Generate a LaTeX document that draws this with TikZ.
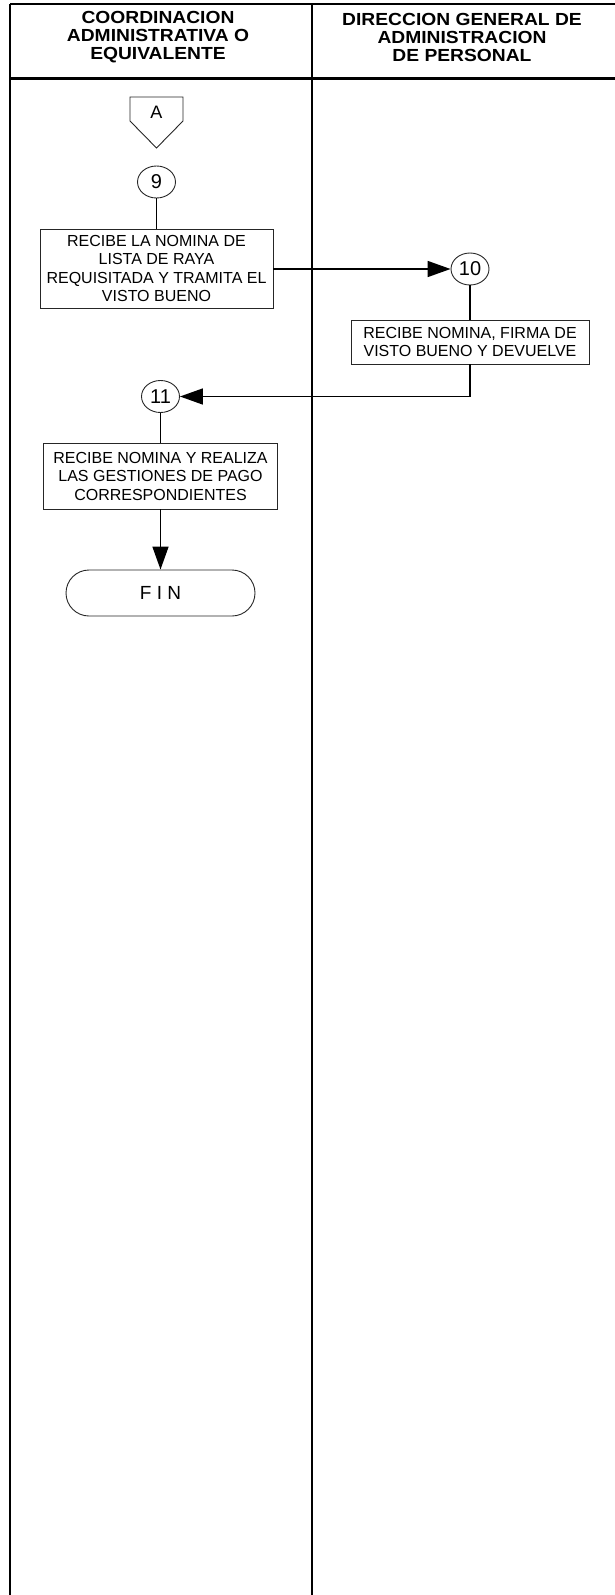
\documentclass[tikz,border=0pt]{standalone}
\usepackage{fontspec}
\setmainfont{Liberation Sans}
\newfontfamily\hdfont[FakeStretch=1.1]{Liberation Sans}
\usetikzlibrary{arrows.meta,shapes.geometric}
\begin{document}
\begin{tikzpicture}[x=1pt,y=-1pt,
  box/.style={draw=black!85, line width=0.9pt, rectangle, inner sep=0pt, align=center,
    font=\fontsize{16}{18.5}\selectfont},
  circ/.style={draw=black!85, line width=0.9pt, ellipse, minimum width=38pt, minimum height=32pt,
    inner sep=0pt, font=\fontsize{20}{20}\selectfont},
  flow/.style={line width=1.6pt},
  arr/.style={flow, -{Triangle[length=23pt,width=16pt]}},
  lane/.style={line width=2pt},
  head/.style={font=\hdfont\fontsize{17.5}{18}\selectfont\bfseries, align=center}]
\useasboundingbox (0,0) rectangle (615,1595);
% swimlane frame
\draw[lane] (10,4.5) -- (625,4.5);
\draw[lane] (10,4.5) -- (10,1605);
\draw[line width=2.5pt] (10,78.5) -- (625,78.5);
\draw[lane] (311.5,4.5) -- (311.5,1605);
\node[head] (h1) at (158,37) {COORDINACION\\ADMINISTRATIVA O\\EQUIVALENTE};
\node[head] (h2) at (462,37) {DIRECCION GENERAL DE\\ADMINISTRACION\\DE PERSONAL};
% off-page connector A
\draw[draw=black!85, line width=0.9pt] (130,97) -- (183,97) -- (183,121) -- (156.5,148) -- (130,121) -- cycle;
\node[font=\fontsize{18}{18}\selectfont] (A) at (156.5,112) {A};
% nodes
\node[circ] (c9) at (156.5,182) {9};
\node[box, minimum width=233pt, minimum height=79pt] (b1) at (156.5,268.5)
  {RECIBE LA NOMINA DE\\LISTA DE RAYA\\REQUISITADA Y TRAMITA EL\\VISTO BUENO};
\node[circ] (c10) at (470,269) {10};
\node[box, minimum width=238pt, minimum height=44pt] (b2) at (470,342)
  {RECIBE NOMINA, FIRMA DE\\VISTO BUENO Y DEVUELVE};
\node[circ] (c11) at (160.5,396.5) {11};
\node[box, minimum width=234pt, minimum height=66pt] (b3) at (160.5,476)
  {RECIBE NOMINA Y REALIZA\\LAS GESTIONES DE PAGO\\CORRESPONDIENTES};
\node[draw=black!85, line width=0.9pt, rounded corners=23pt, minimum width=189pt, minimum height=46pt,
  inner sep=0pt, font=\fontsize{19}{19}\selectfont] (fin) at (160.5,593) {F I N};
% connectors
\draw[flow] (c9.south) -- (b1.north);
\draw[arr] (b1.east |- c10.west) -- (c10.west);
\draw[flow] (c10.south) -- (b2.north);
\draw[arr] (b2.south) |- (c11.east);
\draw[flow] (c11.south) -- (b3.north);
\draw[arr] (b3.south) -- (fin.north);
\end{tikzpicture}
\end{document}
